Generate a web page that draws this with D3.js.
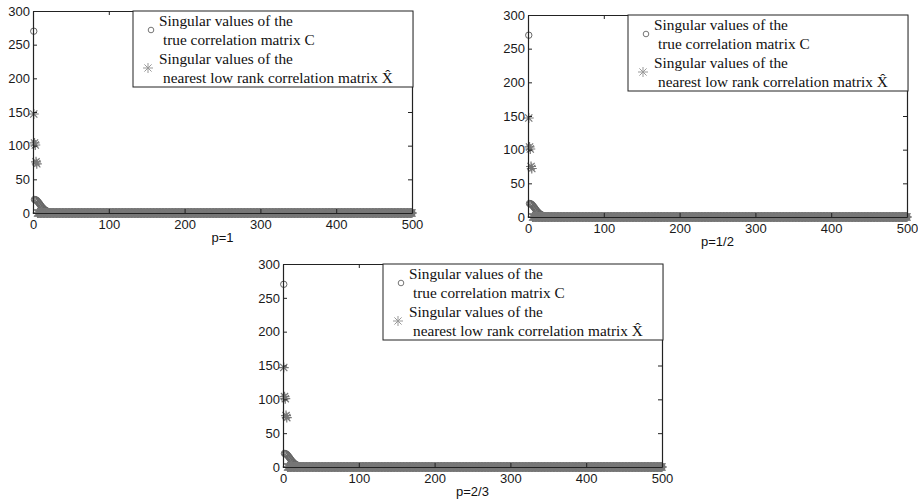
<!DOCTYPE html>
<html><head><meta charset="utf-8">
<script src="https://cdn.jsdelivr.net/npm/d3@7"></script>
<style>body{margin:0;background:#fff} svg{display:block}</style>
</head><body><svg id="c" width="918" height="504"></svg>
<script>
// ---------- data ----------
const xTicks = [0, 100, 200, 300, 400, 500];
const yTicks = [0, 50, 100, 150, 200, 250, 300];
const panelTitles = ["p=1", "p=1/2", "p=2/3"];
const legendLabels = [
  ["Singular values of the", "true correlation matrix C"],
  ["Singular values of the", "nearest low rank correlation matrix X\u0302"]
];
// singular values of the true correlation matrix C (index 1..500)
const cHead = [270, 20, 19.8, 19.3, 18.5, 17.3, 16, 14.5, 13, 11.4, 9.9, 8.5, 7.2, 6.1, 5.1, 4.3, 3.6, 3.0, 2.5, 2.1, 1.8, 1.5, 1.3, 1.1, 1.0, 0.9];
const cTail = [
0.9,0.9,0.9,0.8,0.8,0.8,0.8,0.8,0.7,0.7,0.7,0.7,0.7,0.7,0.6,0.6,0.6,0.6,0.6,0.6,
0.6,0.5,0.5,0.5,0.5,0.5,0.5,0.5,0.5,0.5,0.5,0.4,0.4,0.4,0.4,0.4,0.4,0.4,0.4,0.4,
0.4,0.4,0.4,0.4,0.4,0.4,0.3,0.3,0.3,0.3,0.3,0.3,0.3,0.3,0.3,0.3,0.3,0.3,0.3,0.3,
0.3,0.3,0.3,0.3,0.3,0.3,0.3,0.3,0.3,0.3,0.2,0.2,0.2,0.2,0.2,0.2,0.2,0.2,0.2,0.2,
0.2,0.2,0.2,0.2,0.2,0.2,0.2,0.2,0.2,0.2,0.2,0.2,0.2,0.2,0.2,0.2,0.2,0.2,0.2,0.2,
0.2,0.2,0.2,0.2,0.2,0.2,0.2,0.2,0.2,0.2,0.2,0.2,0.2,0.2,0.2,0.2,0.2,0.2,0.2,0.2,
0.2,0.2,0.2,0.2,0.2,0.2,0.2,0.2,0.2,0.2,0.2,0.2,0.2,0.2,0.2,0.2,0.2,0.2,0.2,0.2,
0.2,0.2,0.2,0.2,0.2,0.2,0.2,0.2,0.2,0.2,0.1,0.1,0.1,0.1,0.1,0.1,0.1,0.1,0.1,0.1,
0.1,0.1,0.1,0.1,0.1,0.1,0.1,0.1,0.1,0.1,0.1,0.1,0.1,0.1,0.1,0.1,0.1,0.1,0.1,0.1,
0.1,0.1,0.1,0.1,0.1,0.1,0.1,0.1,0.1,0.1,0.1,0.1,0.1,0.1,0.1,0.1,0.1,0.1,0.1,0.1,
0.1,0.1,0.1,0.1,0.1,0.1,0.1,0.1,0.1,0.1,0.1,0.1,0.1,0.1,0.1,0.1,0.1,0.1,0.1,0.1,
0.1,0.1,0.1,0.1,0.1,0.1,0.1,0.1,0.1,0.1,0.1,0.1,0.1,0.1,0.1,0.1,0.1,0.1,0.1,0.1,
0.1,0.1,0.1,0.1,0.1,0.1,0.1,0.1,0.1,0.1,0.1,0.1,0.1,0.1,0.1,0.1,0.1,0.1,0.1,0.1,
0.1,0.1,0.1,0.1,0.1,0.1,0.1,0.1,0.1,0.1,0.1,0.1,0.1,0.1,0.1,0.1,0.1,0.1,0.1,0.1,
0.1,0.1,0.1,0.1,0.1,0.1,0.1,0.1,0.1,0.1,0.1,0.1,0.1,0.1,0.1,0.1,0.1,0.1,0.1,0.1,
0.1,0.1,0.1,0.1,0.1,0.1,0.1,0.1,0.1,0.1,0.1,0.1,0.1,0.1,0.1,0.1,0.1,0.1,0.1,0.1,
0.1,0.1,0.1,0.1,0.1,0.1,0.1,0.1,0.1,0.1,0.1,0.1,0.1,0.1,0.1,0.1,0.1,0.1,0.1,0.1,
0.1,0.1,0.1,0.1,0.1,0.1,0.1,0.1,0.1,0.1,0.1,0.1,0.1,0.1,0.1,0.1,0.1,0.1,0.1,0.1,
0.05,0.05,0.05,0.05,0.05,0.05,0.05,0.05,0.05,0.05,0.05,0.05,0.05,0.05,0.05,0.05,0.05,0.05,0.05,0.05,
0.05,0.05,0.05,0.05,0.05,0.05,0.05,0.05,0.05,0.05,0.05,0.05,0.05,0.05,0.05,0.05,0.05,0.05,0.05,0.05,
0.05,0.05,0.05,0.05,0.05,0.05,0.05,0.05,0.05,0.05,0.05,0.05,0.05,0.05,0.05,0.05,0.05,0.05,0.05,0.05,
0.02,0.02,0.02,0.02,0.02,0.02,0.02,0.02,0.02,0.02,0.02,0.02,0.02,0.02,0.02,0.02,0.02,0.02,0.02,0.02,
0.02,0.02,0.02,0.02,0.02,0.02,0.02,0.02,0.02,0.02,0.02,0.02,0.02,0.02,0.02,0.02,0.02,0.02,0.02,0.02,
0.02,0.02,0.02,0.02,0.02,0.02,0.02,0.02,0.02,0.02,0.02,0.02,0.02,0.02
];
// singular values of the nearest low rank (rank 5) matrix X-hat, per panel
const xhatHeadP1 = [147, 104, 101, 76, 73];
const xhatHeadP2 = [147, 104, 101, 75, 72];
const xhatHeadP3 = [147, 104, 101, 76, 73];
const xhatTail = [
0,0,0,0,0,0,0,0,0,0,0,0,0,0,0,0,0,0,0,0,
0,0,0,0,0,0,0,0,0,0,0,0,0,0,0,0,0,0,0,0,
0,0,0,0,0,0,0,0,0,0,0,0,0,0,0,0,0,0,0,0,
0,0,0,0,0,0,0,0,0,0,0,0,0,0,0,0,0,0,0,0,
0,0,0,0,0,0,0,0,0,0,0,0,0,0,0,0,0,0,0,0,
0,0,0,0,0,0,0,0,0,0,0,0,0,0,0,0,0,0,0,0,
0,0,0,0,0,0,0,0,0,0,0,0,0,0,0,0,0,0,0,0,
0,0,0,0,0,0,0,0,0,0,0,0,0,0,0,0,0,0,0,0,
0,0,0,0,0,0,0,0,0,0,0,0,0,0,0,0,0,0,0,0,
0,0,0,0,0,0,0,0,0,0,0,0,0,0,0,0,0,0,0,0,
0,0,0,0,0,0,0,0,0,0,0,0,0,0,0,0,0,0,0,0,
0,0,0,0,0,0,0,0,0,0,0,0,0,0,0,0,0,0,0,0,
0,0,0,0,0,0,0,0,0,0,0,0,0,0,0,0,0,0,0,0,
0,0,0,0,0,0,0,0,0,0,0,0,0,0,0,0,0,0,0,0,
0,0,0,0,0,0,0,0,0,0,0,0,0,0,0,0,0,0,0,0,
0,0,0,0,0,0,0,0,0,0,0,0,0,0,0,0,0,0,0,0,
0,0,0,0,0,0,0,0,0,0,0,0,0,0,0,0,0,0,0,0,
0,0,0,0,0,0,0,0,0,0,0,0,0,0,0,0,0,0,0,0,
0,0,0,0,0,0,0,0,0,0,0,0,0,0,0,0,0,0,0,0,
0,0,0,0,0,0,0,0,0,0,0,0,0,0,0,0,0,0,0,0,
0,0,0,0,0,0,0,0,0,0,0,0,0,0,0,0,0,0,0,0,
0,0,0,0,0,0,0,0,0,0,0,0,0,0,0,0,0,0,0,0,
0,0,0,0,0,0,0,0,0,0,0,0,0,0,0,0,0,0,0,0,
0,0,0,0,0,0,0,0,0,0,0,0,0,0,0,0,0,0,0,0,
0,0,0,0,0,0,0,0,0,0,0,0,0,0,0
];
const cValues = cHead.concat(cTail);
const xhatValues = [xhatHeadP1, xhatHeadP2, xhatHeadP3].map(h => h.concat(xhatTail));

// ---------- layout ----------
const layout = [
  {x0: 33, x1: 412, yTop: 11, yBot: 213},
  {x0: 528, x1: 907, yTop: 15, yBot: 217},
  {x0: 283, x1: 662, yTop: 264, yBot: 467}
];
const sansFont = "'Liberation Sans', Arial, Helvetica, sans-serif";
const serifFont = "'Liberation Serif', 'Times New Roman', serif";
const circleColor = "#666";
const starColor = "#777";
const starPath = "M-5,0H5M0,-5V5M-3.6,-3.6L3.6,3.6M-3.6,3.6L3.6,-3.6";

const svg = d3.select("#c");

layout.forEach((L, pi) => {
  const g = svg.append("g");
  const x = d3.scaleLinear().domain([0, 500]).range([L.x0, L.x1]);
  const y = d3.scaleLinear().domain([0, 300]).range([L.yBot, L.yTop]);

  // circles (true C)
  g.append("g").selectAll("circle").data(cValues).join("circle")
    .attr("cx", (d, i) => x(i + 1)).attr("cy", d => y(d))
    .attr("r", 3.2).attr("fill", "none")
    .attr("stroke", circleColor).attr("stroke-width", 1);

  // stars (X-hat)
  g.append("g").selectAll("path").data(xhatValues[pi]).join("path")
    .attr("transform", (d, i) => `translate(${x(i + 1)},${y(d)})`)
    .attr("d", starPath).attr("fill", "none")
    .attr("stroke", starColor).attr("stroke-width", 1.2);

  // axes (box with inward ticks)
  const styleAxis = sel => {
    sel.selectAll("path.domain").attr("stroke", "#222").attr("stroke-width", 1.2);
    sel.selectAll(".tick line").attr("stroke", "#222").attr("stroke-width", 1);
    sel.selectAll(".tick text").attr("fill", "#1a1a1a")
      .style("font-family", sansFont).style("font-size", "13px");
  };
  g.append("g").attr("transform", `translate(${L.x0},0)`)
    .call(d3.axisLeft(y).tickValues(yTicks).tickSizeInner(-4).tickSizeOuter(0).tickPadding(3))
    .call(styleAxis);
  g.append("g").attr("transform", `translate(${L.x1},0)`)
    .call(d3.axisRight(y).tickValues(yTicks).tickSizeInner(-4).tickSizeOuter(0).tickFormat(""))
    .call(styleAxis);
  g.append("g").attr("transform", `translate(0,${L.yBot})`)
    .call(d3.axisBottom(x).tickValues(xTicks).tickSizeInner(-4).tickSizeOuter(0).tickPadding(7))
    .call(styleAxis);
  g.append("g").attr("transform", `translate(0,${L.yTop})`)
    .call(d3.axisTop(x).tickValues(xTicks).tickSizeInner(-4).tickSizeOuter(0).tickFormat(""))
    .call(styleAxis);
  g.selectAll(".domain").attr("fill", "none");

  // panel title
  g.append("text").attr("x", (L.x0 + L.x1) / 2).attr("y", L.yBot + 29)
    .attr("text-anchor", "middle").attr("fill", "#111")
    .style("font-family", sansFont).style("font-size", "13px")
    .text(panelTitles[pi]);

  // legend
  const lx = L.x0 + 100, ly = L.yTop;
  const lg = g.append("g").attr("transform", `translate(${lx},${ly})`);
  lg.append("rect").attr("x", 0).attr("y", 0).attr("width", L.x1 - lx + 1).attr("height", 76)
    .attr("fill", "#fff").attr("stroke", "#222").attr("stroke-width", 1);
  lg.append("circle").attr("cx", 18).attr("cy", 19).attr("r", 2.8)
    .attr("fill", "none").attr("stroke", circleColor).attr("stroke-width", 0.9);
  lg.append("path").attr("transform", "translate(15,57)").attr("d", starPath)
    .attr("fill", "none").attr("stroke", "#999").attr("stroke-width", 1);
  const lines = [
    {t: legendLabels[0][0], x: 26, y: 15},
    {t: legendLabels[0][1], x: 30, y: 34},
    {t: legendLabels[1][0], x: 26, y: 53},
    {t: legendLabels[1][1], x: 30, y: 72}
  ];
  lg.selectAll("text").data(lines).join("text")
    .attr("x", d => d.x).attr("y", d => d.y).attr("fill", "#111")
    .style("font-family", serifFont).style("font-size", "15.3px")
    .text(d => d.t);
});
</script>
</body></html>
